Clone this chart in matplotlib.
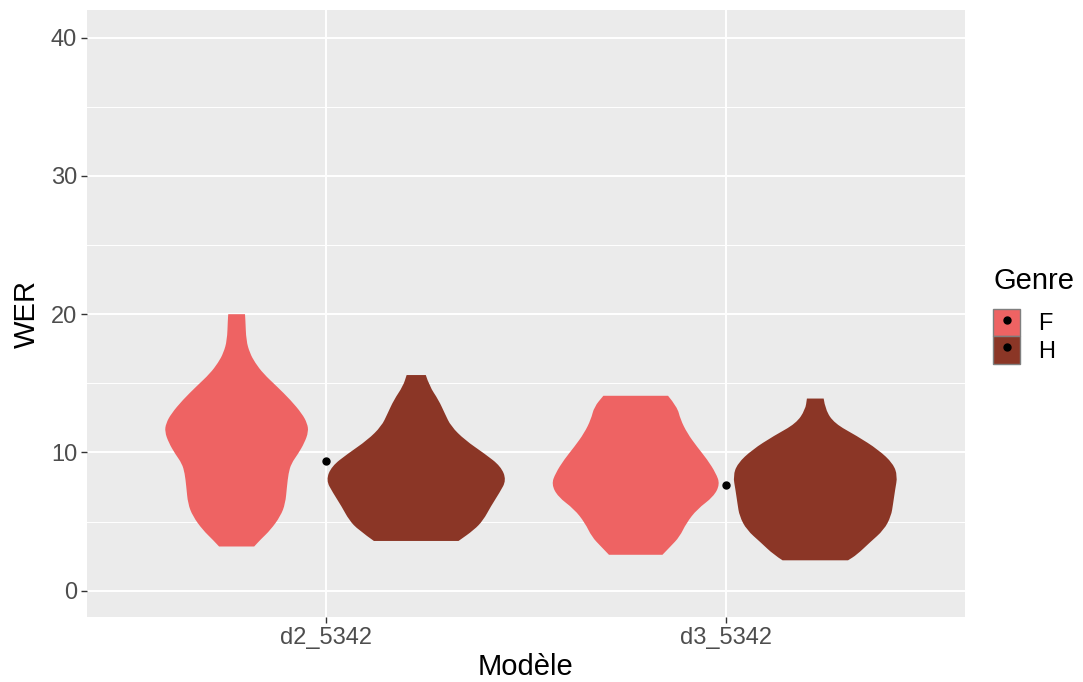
import matplotlib
matplotlib.use('Agg')
import matplotlib.pyplot as plt
from matplotlib.patches import Patch, PathPatch
from matplotlib.lines import Line2D
from matplotlib.path import Path

plt.rcParams['font.family'] = ['Liberation Sans', 'DejaVu Sans']

# categories / groups
models = ['d2_5342', 'd3_5342']
genres = ['F', 'H']
colors = {'F': '#EE6363', 'H': '#8B3626'}

# violin outlines: WER level and half-width (in category units)
f_d2_y = [20.0, 19.6, 18.1, 17.2, 16.5, 15.7, 14.8, 13.8, 12.8, 12.1, 11.5, 10.7,
          9.9, 9.2, 8.5, 7.5, 6.3, 5.4, 4.4, 3.7, 3.2]
f_d2_w = [.021, .022, .024, .033, .046, .067, .100, .135, .164, .177, .180, .170,
          .154, .137, .130, .126, .122, .110, .085, .060, .044]

h_d2_y = [15.6, 14.8, 13.8, 12.8, 11.9, 10.9, 9.9, 9.0, 8.0, 7.1, 6.1, 5.1, 4.4, 3.6]
h_d2_w = [.024, .033, .056, .072, .087, .122, .172, .212, .226, .209, .187, .168,
          .145, .106]

f_d3_y = [14.1, 13.3, 12.4, 11.4, 10.4, 9.5, 8.5, 7.7, 6.8, 5.9, 4.9, 3.9, 3.2, 2.6]
f_d3_w = [.081, .104, .112, .129, .154, .179, .201, .211, .195, .154, .127, .110,
          .087, .067]

h_d3_y = [13.9, 13.1, 12.1, 11.2, 10.2, 9.2, 8.3, 7.3, 6.3, 5.4, 4.4, 3.5, 2.6, 2.2]
h_d3_w = [.021, .025, .048, .104, .158, .195, .206, .200, .195, .190, .172, .137,
          .104, .082]

violins = {
    ('d2_5342', 'F'): (f_d2_y, f_d2_w),
    ('d2_5342', 'H'): (h_d2_y, h_d2_w),
    ('d3_5342', 'F'): (f_d3_y, f_d3_w),
    ('d3_5342', 'H'): (h_d3_y, h_d3_w),
}

# mean WER per model (black dots)
means = [9.35, 7.65]


def side(pts):
    # rounded chain through the outline points (quadratic b-spline style)
    verts, codes = [], []
    for k in range(1, len(pts) - 1):
        mid = ((pts[k][0] + pts[k + 1][0]) / 2, (pts[k][1] + pts[k + 1][1]) / 2)
        verts += [pts[k], mid]
        codes += [Path.CURVE3, Path.CURVE3]
    verts.append(pts[-1])
    codes.append(Path.LINETO)
    return verts, codes


def violin_path(xc, ys, ws):
    right = [(xc + w, y) for y, w in zip(ys, ws)]
    left = [(xc - w, y) for y, w in zip(ys, ws)][::-1]
    verts, codes = [right[0]], [Path.MOVETO]
    v, c = side(right)
    verts += v; codes += c
    verts.append(left[0]); codes.append(Path.LINETO)
    v, c = side(left)
    verts += v; codes += c
    verts.append(right[0]); codes.append(Path.CLOSEPOLY)
    return Path(verts, codes)


fig = plt.figure(figsize=(10.83, 6.82), dpi=100)
ax = fig.add_axes([0.0803, 0.0953, 0.8107, 0.89])
ax.set_facecolor('#EBEBEB')

for i, m in enumerate(models):
    for j, g in enumerate(genres):
        ys, ws = violins[(m, g)]
        xc = i + 1 + (j - 0.5) * 0.45
        ax.add_patch(PathPatch(violin_path(xc, ys, ws), fc=colors[g],
                               ec='none', lw=0, zorder=3))

ax.plot(range(1, len(models) + 1), means, 'o', color='black', ms=5, zorder=4)

ax.set_xlim(0.4, 2.6)
ax.set_ylim(-1.9, 42)
ax.set_xticks([1, 2])
ax.set_xticklabels(models)
ax.set_yticks([0, 10, 20, 30, 40])
ax.set_yticks([5, 15, 25, 35], minor=True)
ax.grid(which='major', color='white', lw=1.4, zorder=1)
ax.grid(which='minor', axis='y', color='white', lw=0.7, zorder=1)
ax.set_axisbelow(True)
for s in ax.spines.values():
    s.set_visible(False)
ax.tick_params(which='major', length=4, width=1, color='#333333',
               labelsize=17, labelcolor='#4D4D4D', pad=3)
ax.tick_params(which='minor', length=0)

ax.set_xlabel('Modèle', fontsize=21, labelpad=3)
ax.set_ylabel('WER', fontsize=21, labelpad=7)

handles = [(Patch(fc=colors[g], ec='#7F7F7F', lw=1),
            Line2D([], [], marker='o', ls='', color='black', ms=5)) for g in genres]
leg = ax.legend(handles, genres, title='Genre', loc='center left',
                bbox_to_anchor=(1.032, 0.497), frameon=False, fontsize=17,
                title_fontsize=21, handlelength=1.16, handleheight=1.42,
                handletextpad=0.75, labelspacing=0.0, borderaxespad=0,
                borderpad=0)
leg._legend_box.align = 'left'
leg._legend_box.sep = 10

fig.savefig('out.png', dpi=100)
